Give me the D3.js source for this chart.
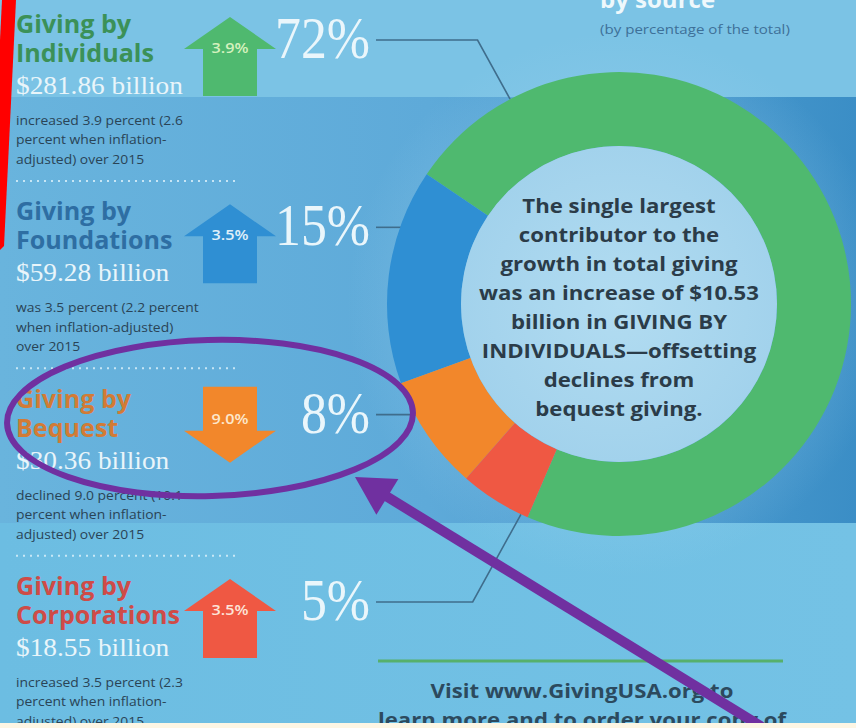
<!DOCTYPE html>
<html>
<head>
<meta charset="utf-8">
<script src="https://cdn.jsdelivr.net/npm/d3@7"></script>
<style>
  html, body { margin: 0; padding: 0; background: #6bb9df; }
  svg { display: block; }
</style>
</head>
<body>
<svg id="chart" width="856" height="728"></svg>
<script>
// ---- data ----
const sources = ["Individuals", "Foundations", "Bequest", "Corporations"];
const shares = [72, 15, 8, 5];                 // percent of total giving
const amounts = [281.86, 59.28, 30.36, 18.55]; // billions of dollars
const changes = [3.9, 3.5, -9.0, 3.5];         // percent change over 2015
const notes = [
  ["increased 3.9 percent (2.6", "percent when inflation-", "adjusted) over 2015"],
  ["was 3.5 percent (2.2 percent", "when inflation-adjusted)", "over 2015"],
  ["declined 9.0 percent (10.1", "percent when inflation-", "adjusted) over 2015"],
  ["increased 3.5 percent (2.3", "percent when inflation-", "adjusted) over 2015"]
];
const ringOrder = ["Individuals", "Corporations", "Bequest", "Foundations"];
const centerNote = [
  "The single largest", "contributor to the", "growth in total giving",
  "was an increase of $10.53", "billion in GIVING BY",
  "INDIVIDUALS\u2014offsetting", "declines from", "bequest giving."
];
const headerLines = ["by source", "(by percentage of the total)"];
const footerLines = ["Visit www.GivingUSA.org to", "learn more and to order your copy of"];

const rows = sources.map((name, i) => ({
  name, share: shares[i], amount: amounts[i], change: changes[i], note: notes[i]
}));

// ---- setup ----
const W = 856, H = 728;
const svg = d3.select("#chart");
const defs = svg.append("defs");

const sliceColor = d3.scaleOrdinal().domain(sources)
  .range(["#4fb96f", "#2f8fd3", "#f2872b", "#ef5843"]);
const titleColor = d3.scaleOrdinal().domain(sources)
  .range(["#3b9158", "#2e6ea3", "#d27b35", "#cf4b47"]);
const badgeColor = d3.scaleOrdinal().domain(sources)
  .range(["#d5f1bd", "#e0f0fa", "#fde7cc", "#fde4d8"]);

const SANS = "'Open Sans', 'Noto Sans', 'DejaVu Sans', sans-serif";
const SERIF = "'Liberation Serif', 'DejaVu Serif', serif";

// horizontal scale factor that makes a reference text span `target` px
function squeeze(refNode, target) {
  const w = refNode.getComputedTextLength();
  return w > 0 ? target / w : 1;
}

// ---- background bands ----
const midGrad = defs.append("linearGradient").attr("id", "midGrad")
  .attr("x1", 0).attr("x2", 1).attr("y1", 0).attr("y2", 0);
midGrad.append("stop").attr("offset", 0).attr("stop-color", "#69b4dd");
midGrad.append("stop").attr("offset", 0.5).attr("stop-color", "#5eaad9");
midGrad.append("stop").attr("offset", 1).attr("stop-color", "#3b8ec6");

const botGrad = defs.append("linearGradient").attr("id", "botGrad")
  .attr("x1", 0).attr("x2", 1).attr("y1", 0).attr("y2", 0);
botGrad.append("stop").attr("offset", 0).attr("stop-color", "#6cbde2");
botGrad.append("stop").attr("offset", 1).attr("stop-color", "#74c2e5");

const glow = defs.append("radialGradient").attr("id", "glow");
glow.append("stop").attr("offset", 0.6).attr("stop-color", "#9fd3ee").attr("stop-opacity", 0.3);
glow.append("stop").attr("offset", 1).attr("stop-color", "#9fd3ee").attr("stop-opacity", 0);

svg.append("rect").attr("width", W).attr("height", H).attr("fill", "#6bb9df");
svg.append("rect").attr("y", 97).attr("width", W).attr("height", 426).attr("fill", "url(#midGrad)");
svg.append("rect").attr("y", 0).attr("width", W).attr("height", 97).attr("fill", "#7bc3e5");
svg.append("rect").attr("y", 523).attr("width", W).attr("height", H - 523).attr("fill", "url(#botGrad)");

// ---- donut ----
const cx = 619, cy = 304, R = 232, r = 158;
const start = -56 * Math.PI / 180;
svg.append("circle").attr("cx", cx).attr("cy", cy).attr("r", R + 40)
  .attr("fill", "url(#glow)");

const pie = d3.pie()
  .sort((a, b) => ringOrder.indexOf(a.name) - ringOrder.indexOf(b.name))
  .value(d => d.share)
  .startAngle(start).endAngle(start + 2 * Math.PI);
const arcs = pie(rows);
const arc = d3.arc().innerRadius(r).outerRadius(R);

// leader lines from each percent label to its slice
const rowTop = d3.scalePoint().domain(sources).range([15, 577]);
const labelRight = 370;
const leaderAngle = { Individuals: -28, Corporations: 205 };
const ringPoint = a => [cx + R * Math.sin(a), cy - R * Math.cos(a)];

const leaders = svg.append("g").attr("fill", "none")
  .attr("stroke", "#3f6d8c").attr("stroke-width", 1.6);
rows.forEach(d => {
  const y = rowTop(d.name) + 25;
  const x0 = labelRight + 6;
  let pts;
  if (leaderAngle[d.name] !== undefined) {
    const [px, py] = ringPoint(leaderAngle[d.name] * Math.PI / 180);
    const ex = px - 0.55 * Math.abs(py - y);
    pts = [[x0, y], [ex, y], [px, py]];
  } else {
    const px = cx - Math.sqrt(R * R - (cy - y) * (cy - y));
    pts = [[x0, y], [px + 2, y]];
  }
  leaders.append("path").attr("d", d3.line()(pts));
});

const ring = svg.append("g").attr("transform", `translate(${cx},${cy})`);
ring.selectAll("path").data(arcs).join("path")
  .attr("d", arc)
  .attr("fill", d => sliceColor(d.data.name));

const innerGrad = defs.append("radialGradient").attr("id", "innerGrad");
innerGrad.append("stop").attr("offset", 0).attr("stop-color", "#b2dcf1");
innerGrad.append("stop").attr("offset", 1).attr("stop-color", "#a2d2ec");
ring.append("circle").attr("r", r).attr("fill", "url(#innerGrad)");

// centre statement
const cg = svg.append("g").attr("transform", `translate(${cx},0)`);
const cTexts = cg.selectAll("text").data(centerNote).join("text")
  .attr("x", 0).attr("y", (d, i) => cy - 91 + i * 29)
  .attr("text-anchor", "middle")
  .attr("font-family", SANS).attr("font-weight", 700).attr("font-size", 20)
  .attr("fill", "#2b3c49")
  .text(d => d);
cg.attr("transform", `translate(${cx},0) scale(${squeeze(cTexts.nodes()[3], 280)},1)`);

// ---- left column: one block per source ----
const arrowX = 230;
function arrowPath(up, T) {
  const c = arrowX;
  if (up) {
    return `M${c},${T + 2} L${c + 46},${T + 34} L${c + 27},${T + 34} L${c + 27},${T + 81}
            L${c - 27},${T + 81} L${c - 27},${T + 34} L${c - 46},${T + 34} Z`;
  }
  return `M${c - 27},${T - 3} L${c + 27},${T - 3} L${c + 27},${T + 41} L${c + 46},${T + 41}
          L${c},${T + 73} L${c - 46},${T + 41} L${c - 27},${T + 41} Z`;
}

const fmtPct = d3.format(".1f");
const fmtAmt = d3.format(".2f");
const left = svg.append("g");

const titleGroups = [], amountTexts = [], noteGroups = [], pctGroups = [], badgeGroups = [];

rows.forEach((d, i) => {
  const T = rowTop(d.name);
  const g = left.append("g");

  // title
  const tg = g.append("g").attr("transform", `translate(16,0)`);
  tg.append("text").attr("x", 0).attr("y", T + 18).text("Giving by");
  tg.append("text").attr("x", 0).attr("y", T + 47).text(d.name);
  tg.selectAll("text").attr("font-family", SANS).attr("font-weight", 700)
    .attr("font-size", 25).attr("fill", titleColor(d.name));
  titleGroups.push(tg);

  // amount
  const ag = g.append("g").attr("transform", `translate(16,0)`);
  ag.append("text").attr("x", 0).attr("y", T + 79)
    .attr("font-family", SERIF).attr("font-size", 26).attr("fill", "#e9f5fa")
    .text("$" + fmtAmt(d.amount) + " billion");
  amountTexts.push(ag);

  // note
  const ng = g.append("g").attr("transform", `translate(16,0)`);
  ng.selectAll("text").data(d.note).join("text")
    .attr("x", 0).attr("y", (t, j) => T + 110 + j * 19.5)
    .attr("font-family", SANS).attr("font-size", 13).attr("fill", "#2a4456")
    .text(t => t);
  noteGroups.push(ng);

  // separator
  if (i < rows.length - 1) {
    g.append("line").attr("x1", 16).attr("x2", 240)
      .attr("y1", T + 166).attr("y2", T + 166)
      .attr("stroke", "#d8eef9").attr("stroke-opacity", 0.85)
      .attr("stroke-width", 2).attr("stroke-dasharray", "2,5");
  }

  // change arrow
  const up = d.change >= 0;
  g.append("path").attr("d", arrowPath(up, T)).attr("fill", sliceColor(d.name));
  const bg = g.append("g").attr("transform", `translate(${arrowX},0)`);
  bg.append("text").attr("x", 0).attr("y", up ? T + 38 : T + 34)
    .attr("text-anchor", "middle")
    .attr("font-family", SANS).attr("font-weight", 600).attr("font-size", 14)
    .attr("fill", badgeColor(d.name))
    .text(fmtPct(Math.abs(d.change)) + "%");
  badgeGroups.push(bg);

  // share of total
  const pg = g.append("g").attr("transform", `translate(${labelRight},0)`);
  pg.append("text").attr("x", 0).attr("y", T + 43)
    .attr("text-anchor", "end")
    .attr("font-family", SERIF).attr("font-size", 60).attr("fill", "#eaf6fb")
    .text(d.share + "%");
  pctGroups.push(pg);
});

// horizontal condensing shared by each text family
{
  const sT = squeeze(titleGroups[3].selectAll("text").nodes()[1], 164);
  titleGroups.forEach(g => g.attr("transform", `translate(16,0) scale(${sT},1)`));
  const sA = squeeze(amountTexts[0].select("text").node(), 167);
  amountTexts.forEach(g => g.attr("transform", `translate(16,0) scale(${sA},1)`));
  const sN = squeeze(noteGroups[0].selectAll("text").nodes()[0], 167);
  noteGroups.forEach(g => g.attr("transform", `translate(16,0) scale(${sN},1)`));
  const sP = squeeze(pctGroups[0].select("text").node(), 95);
  pctGroups.forEach(g => g.attr("transform", `translate(${labelRight},0) scale(${sP},1)`));
  const sB = squeeze(badgeGroups[0].select("text").node(), 37);
  badgeGroups.forEach(g => g.attr("transform", `translate(${arrowX},0) scale(${sB},1)`));
}

// ---- header ----
svg.append("text").attr("x", 600).attr("y", 8)
  .attr("font-family", SANS).attr("font-weight", 700).attr("font-size", 24)
  .attr("fill", "#eef8fc").text(headerLines[0]);
const hg = svg.append("g").attr("transform", "translate(600,0)");
const hSub = hg.append("text").attr("x", 0).attr("y", 34)
  .attr("font-family", SANS).attr("font-size", 13).attr("fill", "#3e7098")
  .text(headerLines[1]);
hg.attr("transform", `translate(600,0) scale(${squeeze(hSub.node(), 190)},1)`);

// ---- footer ----
svg.append("line").attr("x1", 378).attr("x2", 783).attr("y1", 661).attr("y2", 661)
  .attr("stroke", "#56b06c").attr("stroke-width", 3);
const fg = svg.append("g").attr("transform", "translate(582,0)");
const fTexts = fg.selectAll("text").data(footerLines).join("text")
  .attr("x", 0).attr("y", (d, i) => 698 + i * 29)
  .attr("text-anchor", "middle")
  .attr("font-family", SANS).attr("font-weight", 700).attr("font-size", 20)
  .attr("fill", "#2c4a5e").text(d => d);
fg.attr("transform", `translate(582,0) scale(${squeeze(fTexts.nodes()[0], 303)},1)`);

// ---- highlight marks ----
const hl = svg.append("g");
hl.append("ellipse").attr("cx", 210).attr("cy", 418).attr("rx", 203).attr("ry", 78)
  .attr("transform", "rotate(-1.5,210,418)")
  .attr("fill", "none").attr("stroke", "#7030a0").attr("stroke-width", 6);

const tip = [355, 477], tail = [775, 735];
const len = Math.hypot(tail[0] - tip[0], tail[1] - tip[1]);
const ux = (tail[0] - tip[0]) / len, uy = (tail[1] - tip[1]) / len;
const headL = 38, headW = 21;
const base = [tip[0] + headL * ux, tip[1] + headL * uy];
hl.append("line")
  .attr("x1", base[0] - 4 * ux).attr("y1", base[1] - 4 * uy)
  .attr("x2", tail[0]).attr("y2", tail[1])
  .attr("stroke", "#7030a0").attr("stroke-width", 10);
hl.append("path")
  .attr("d", d3.line()([tip,
    [base[0] - headW * uy, base[1] + headW * ux],
    [base[0] + headW * uy, base[1] - headW * ux]]) + "Z")
  .attr("fill", "#7030a0");

// red edge strip on the left and cream strip along the bottom
svg.append("path").attr("d", "M2,0 L16,0 L4,246 L0,250 L0,40 Z").attr("fill", "#ff0000");
svg.append("rect").attr("x", 0).attr("y", 723).attr("width", W).attr("height", H - 723)
  .attr("fill", "#fdf6e4");
</script>
</body>
</html>
